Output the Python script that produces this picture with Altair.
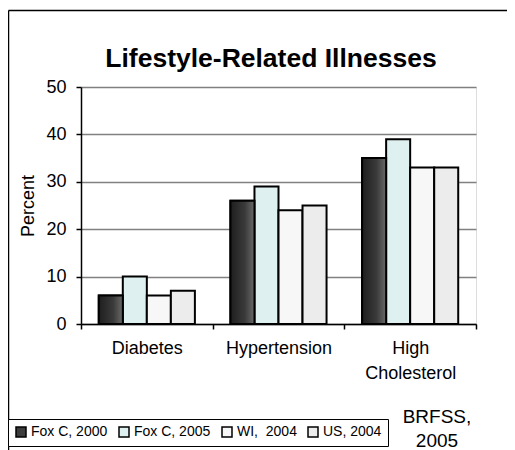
import altair as alt
import pandas as pd

FONT = "Liberation Sans"

categories = ["Diabetes", "Hypertension", "High\nCholesterol"]
series = ["Fox C, 2000", "Fox C, 2005", "WI,\u00a0 2004", "US, 2004"]
fox2000 = [6, 26, 35]
fox2005 = [10, 29, 39]
wi2004 = [6, 24, 33]
us2004 = [7, 25, 33]
series_colors = ["#3c3c3c", "#dff0f0", "#f7f7f7", "#ececec"]
title_text = ["Lifestyle-Related Illnesses"]
note_text = ["BRFSS,\n2005"]

rows = []
for s, vals in zip(series, [fox2000, fox2005, wi2004, us2004]):
    for c, v in zip(categories, vals):
        rows.append({"category": c, "series": s, "value": v})
df = pd.DataFrame(rows)

x_enc = alt.X(
    "category:N",
    sort=categories,
    scale=alt.Scale(paddingInner=0, paddingOuter=0),
    axis=alt.Axis(
        title=None,
        tickBand="extent",
        labelAngle=0,
        labelFontSize=18,
        labelFont=FONT,
        labelColor="black",
        labelPadding=10,
        labelLineHeight=25,
        labelExpr="split(datum.label, '\\n')",
        domainColor="black",
        domainWidth=1.5,
        tickColor="black",
        tickWidth=1.5,
        tickSize=5,
        grid=False,
    ),
)
xoff_enc = alt.XOffset(
    "series:N", sort=series, scale=alt.Scale(paddingInner=0, paddingOuter=0.74)
)
y_enc = alt.Y(
    "value:Q",
    scale=alt.Scale(domain=[0, 50]),
    axis=alt.Axis(
        title="Percent",
        values=[0, 10, 20, 30, 40, 50],
        titleFontSize=18,
        titleFont=FONT,
        titleFontWeight="normal",
        titleColor="black",
        titlePadding=8,
        labelFontSize=18,
        labelFont=FONT,
        labelColor="black",
        labelPadding=10,
        domainColor="black",
        domainWidth=1.5,
        tickColor="black",
        tickWidth=1.5,
        tickSize=5,
        grid=True,
        gridColor="#808080",
        gridWidth=1.5,
    ),
)

bars = alt.Chart(df).mark_bar(stroke="black", strokeWidth=2).encode(
    x=x_enc,
    xOffset=xoff_enc,
    y=y_enc,
    color=alt.Color(
        "series:N",
        sort=series,
        scale=alt.Scale(domain=series, range=series_colors),
        legend=alt.Legend(
            title=None,
            orient="none",
            legendX=-73,
            legendY=332,
            direction="horizontal",
            symbolType="square",
            symbolSize=100,
            symbolStrokeColor="black",
            symbolStrokeWidth=1.5,
            labelFontSize=14,
            labelFont=FONT,
            labelColor="black",
            labelOffset=3,
            columnPadding=8,
            strokeColor="black",
            fillColor="white",
            padding=6,
        ),
    ),
)

dark = (
    alt.Chart(df)
    .transform_filter(alt.datum.series == series[0])
    .mark_bar(
        stroke="black",
        strokeWidth=2,
        fill={
            "gradient": "linear",
            "x1": 0, "y1": 0, "x2": 1, "y2": 0,
            "stops": [
                {"offset": 0, "color": "#1e1e1e"},
                {"offset": 0.6, "color": "#3a3a3a"},
                {"offset": 1, "color": "#6a6a6a"},
            ],
        },
    )
    .encode(x=x_enc, xOffset=xoff_enc, y=y_enc)
)

title = alt.Chart(pd.DataFrame({"t": title_text})).mark_text(
    fontSize=26.5, fontWeight="bold", font=FONT, align="center",
    baseline="alphabetic", color="black"
).encode(x=alt.value(190), y=alt.value(-20), text="t:N")

note = alt.Chart(pd.DataFrame({"t": note_text})).mark_text(
    lineBreak="\n", fontSize=19, font=FONT, align="center",
    baseline="alphabetic", lineHeight=24, color="black"
).encode(x=alt.value(356), y=alt.value(336), text="t:N")

frame_top = alt.Chart(pd.DataFrame({"a": [0]})).mark_rule(
    color="black", strokeWidth=1.5, clip=False
).encode(x=alt.value(-72.5), x2=alt.value(460), y=alt.value(-76.5))
frame_left = alt.Chart(pd.DataFrame({"a": [0]})).mark_rule(
    color="black", strokeWidth=1.5, clip=False
).encode(x=alt.value(-72.5), y=alt.value(-76.5), y2=alt.value(400))

chart = (
    alt.layer(bars, dark, title, note, frame_top, frame_left)
    .properties(
        width=395,
        height=237,
        autosize=alt.AutoSizeParams(type="none"),
        padding={"left": 73, "top": 79, "right": 31, "bottom": 126},
    )
    .configure_view(stroke="#808080", strokeWidth=1.5)
    .configure(background="white")
)

chart.save("out.html", embed_options={"renderer": "svg", "actions": False})
